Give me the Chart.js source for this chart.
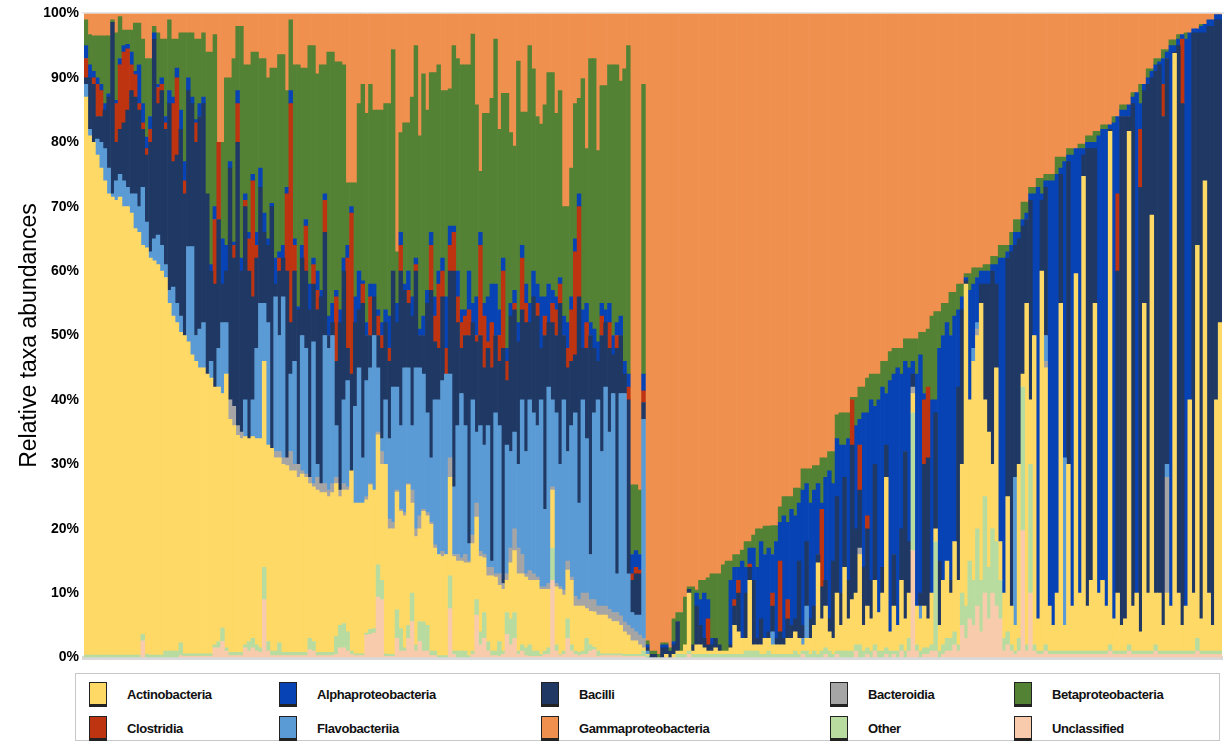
<!DOCTYPE html>
<html>
<head>
<meta charset="utf-8">
<script src="https://cdn.jsdelivr.net/npm/chart.js@4.4.1/dist/chart.umd.min.js"></script>
<style>
  body { margin: 0; background: #fff; font-family: "Liberation Sans", Arial, sans-serif; }
  #wrap { position: relative; width: 1224px; height: 745px; }
  #chartBox { position: absolute; left: 0; top: 0; }
  #legend { position: absolute; left: 75px; top: 673px; width: 1145px; height: 68px; border: 1px solid #c8c8c8; box-sizing: border-box; }
  .item { position: absolute; height: 26px; display: flex; align-items: center; font-size: 13px; font-weight: bold; letter-spacing: -0.4px; color: #111; white-space: nowrap; }
  .swatch { display: inline-block; width: 16px; height: 21px; border: 1px solid #222; border-bottom-width: 3px; margin-right: 20px; }
</style>
</head>
<body>
<div id="wrap">
  <canvas id="chartBox" width="1224" height="671"></canvas>
  <div id="legend"></div>
</div>
<script>
// cumulative tops (% of sample) of each layer, read from bottom to top
// first 148 samples = left block, last 152 = right block
const topUnclassified = [
  0,0,0,0,0,0,0,0,0,0, 0,0,0,0,0,2.6,0,0,0,0, 0,0,0,0,0,0.3,0.2,0.2,0.2,0.2,
  0.2,0.2,0.2,0.2,1.5,1.5,2.5,1,0.3,0.3, 0.3,0.3,1.5,1,1.5,1,0.8,9,1,0.3,
  0.3,0.3,0.3,0.3,0.3,0.3,0.3,0.3,0.3,1.2, 1,0.3,0.3,0.3,0.3,0.3,0.5,1.5,1.5,1,
  0.5,0.3,0.3,0.3,3.5,3.6,3.8,9.4,9,0.2, 0.2,0.2,3,1,1,3,5.6,1,2.5,1,
  1,0.3,0.3,0,0,0,7.6,0.5,0,0, 0,0,0.5,6.6,2,3,1,0.3,0.3,0.2,
  0.5,3.6,2,3,0.5,1,0.3,0.2,0.2,0.2, 0.2,0.5,0.5,12,1,0.3,0.5,3,1,0.5,
  0.3,0.5,0.5,1,1.2,0.2,0.3,0.3,0.3,0.3, 0.3,0.3,0.2,0.2,0.2,0.2,0.2,0.2,
  0,0,0,0,0,0,0,0,0,0, 0,0.5,0,0,0,0,0,0,0,0, 0,0,0,0,0,0,0,0,0,0,
  0,0,0,0,0,0,0,0,0,0, 0,0.5,0,0,0,0,0,0.5,0,0, 0.5,0,0,0,0,1,0,0,0.5,0,
  1,0,0,0.5,0,0.5,0,1,0,1, 16.6,1,0,0.5,0.5,1,1,0,0.5,1, 1,2,1,5,3,6,5,8,4,10,
  6,10,8,6,1,2,1,0.5,1,19.7, 1,10,1,0.5,0.5,1,0.5,0.5,0.5,0.5,
  0.5,0.5,0.5,0.5,0.5,0.5,0.5,0.5,0.5,0.5, 0.5,0.5,1,0.5,0.5,0.5,0.5,1,0.5,0.5,
  0.5,0.5,0.5,0.5,1,0.5,0.5,0.5,0.5,0.5, 0.5,0.5,0.5,0.5,0.5,1,0.5,0.5,0.5,0.5, 0.5,0.5
];
const topOther = [
  0.4,0.4,0.4,0.4,0.4,0.4,0.4,0.4,0.4,0.4, 0.4,0.4,0.4,0.4,0.4,3.6,0.5,0.4,0.4,0.4,
  0.4,1,1,1,1,2.3,0.6,0.6,0.6,0.6, 0.6,0.6,0.6,0.6,2,2.5,4.6,1.5,0.8,0.8,
  0.8,0.8,2,2.5,3,2,1.5,14,2.5,1, 1,2.3,0.8,0.8,0.8,0.8,0.8,0.8,0.8,3,
  2.5,0.8,0.8,0.8,0.8,0.8,3.3,5,5.3,4, 1,0.6,0.6,0.6,3.8,4.4,4.5,14.4,12,0.6,
  0.5,0.5,7.4,4.5,1.5,5,10,2,5.6,5.5, 5,1,1,0.3,0.3,0.3,12.7,1,1,1,
  1,0.3,1,9,4,7,2.5,1,1,2.5, 1,7,6,7,1,2,1.5,2,1,1,
  0.5,1,1.5,17,2,0.5,1,6,2,1, 0.8,1,3,2,1.6,1,0.6,0.6,0.6,0.6, 0.6,0.6,0.5,0.5,0.5,0.5,0.5,1,
  0.3,0,0,0,0,0,0,0,0.5,0.5, 0.5,1,0.5,0.5,0.5,0.5,0.5,0.5,0.5,0.5, 0.5,0.5,0.5,0.5,0.5,0.5,1,1,1,1,
  0.5,0.5,1,0.5,0.5,0.5,0.5,0.5,0.5,1, 0.5,1,1,0.5,1,0.5,1,1.5,1,0.5, 1,1,1,1,1,2,2,1,1.5,1,
  2,1,1,1.5,1,1,1,2,1,3, 38,2,1,1.5,1.5,2,18,1,2,3, 3,4,2,10,8,15,12,20,12,25,
  14,20,18,12,3,4,2,1,3,42, 2,30,2,1,1,2,1,1,1,1, 1,1,1,1,1,1,1,1,1,1,
  1,1,2,1,1,1,1,2,1,1, 1,1,1,1,2,1,1,1,1,1, 1,1,1,1,1,3,1,1,1,1, 1,1
];
const topActinobacteria = [
  87,81,80,78,76,74,72,71.5,71,71.5, 70,70,69,66.6,66,64,63.6,62,61.6,61,
  60,59,55,53,52,50.5,50,49,47,46, 45,45,44,43.4,42,42,41,44,37,36,
  34.5,34,34.3,34,34.3,34,34,46,33,32.5, 31,31,30,29.8,29,29,28,28.5,28,27,
  26.5,26,25.6,25.6,25,25.6,27,25,26,26, 29,24,24,24,24.5,26.8,26,34.6,30,30,
  20,20,25.7,22.7,22,26.8,24,18.8,20,22.7, 22,20.7,17,16,15.7,16,28,15.7,15,15,
  14.7,14.7,17.7,21.8,15.7,15.5,12.7,12.7,12.5,11.2, 10.6,12,14.7,16.6,13,13,12.5,12,12,12,
  10.6,10.6,10.6,26,11,10.6,9.7,13.6,12,8, 8,8,7.6,7.2,7.1,6.6,6.6,6.6,6,5.6, 5.6,5,4,3.5,2.6,2.6,2,1.5,
  0.5,0,0,0,0,0.5,0,0.5,1,1, 2,10,1,2,2,1.5,1,1,1.5,1, 1,1,1.5,5,4,3,3,12,2,2,
  2,3,3,2,2,2,2,3,3,4, 3,2,3,3,5,14.7,6,8,4,3, 10,5,14,6,9,10,16,5,8,6,
  12,7,10,28,4,8,5,12,6,10, 41,8,6,8,6,10,20,5,12,15, 10,18,12,30,58,40,46,50,55,40,
  35,30,45,18,10,25,8,5,30,44, 55,40,50,6,60,45,8,5,10,55, 5,30,8,59.6,10,74.7,8,12,55,10,
  12,8,81.7,6,10,5,6,81.7,8,10, 4,55,10,68.7,10,10,5,10,8,93.8, 10,5,8,40,10,64,6,74,10,5, 40,52
];
const topBacteroidia = [
  87,81,80,78,76,74,72,71.5,71,71.5, 70,70,69,66.6,66,64,63.6,62,61.6,61,
  60,59,55,53,52,50.5,50,49,47,46, 45,45,44,43.4,42,42,41,44,40,39,
  36,35,34.3,34,34.3,34,34,46,33,32.5, 32,32,31,31,32,30,30,29,28.5,28,
  27,28,27,27,26,27,28,26,27,26.5, 29,24,24,24,25,27,26,35,32,30,
  21.5,21,26,23,22.5,27,26,20,22,23, 22.5,21,17.5,16,16.5,16,31,16,16,15.5,
  16,15,19,24,16.5,16,14,14,13,13, 11.5,13,17,20,17,16,13,13.5,13,12.5,
  11,11,11.5,26.5,11.5,11,10.5,15,12.5,9.5, 9,10,10,9,9,8,8,8,7.5,7, 7,6.5,5.5,5,4.5,4,3.5,3,
  0.5,0,0,0,0,0.5,0,0.5,1,1, 2,10,1,2,2,1.5,1,1,1.5,1, 1,1,1.5,5,4,3,3,12,2,2,
  2,3,3,2,2,2,2,3,3,4, 3,2,3,3,5,14.7,6,8,4,3, 10,5,14,6,9,10,17,5,8,6,
  12,7,10,28,4,8,5,12,6,10, 42,8,6,8,6,10,20,5,12,15, 10,18,12,30,58,40,46,51,55,40,
  35,30,45,18,10,25,8,5,30,44, 55,40,50,6,60,46,8,5,10,55, 5,30,8,59.6,10,74.7,8,12,55,10,
  12,8,81.7,6,10,5,6,81.7,8,10, 4,55,10,68.7,10,10,5,28,8,93.8, 10,5,8,40,10,64,6,74,10,5, 40,52
];
const topFlavobacteriia = [
  89,82,80,80.5,80,79,76,72,74,75, 74,73,72,72,70,73,67.6,63,65,65.6,
  64,61,57,57.5,55,53,50,63.8,63.8,50, 51,52,44,46,42,48,52,52,40,39,
  36,35,40,34,40,48,55,55,52,32.5, 56,50,56,31,44,46,30,50,48,28,
  49,30,27,50,48,50,36,26,40,43, 29,39,45,31,43,45,50,45,34,40,
  34,42,42,36,45,45,36,45,45,44, 38,31,40,40,43,44,44,26.5,36,41,
  36,17.7,40,35,36,33,36,15,38,36, 11.5,33,32,35,30,40,32,40,38,36,
  40,23,42,40,38,30,40,32,36,38, 24,40,34,16,38,40,32,42,35,41, 13,41,41,13,7,6.6,6.6,37,
  1,0,0,0,0,0.5,0,0.5,1,1, 2,10,1,2,2,1.5,1,1,1.5,1, 1,1,1.5,5,4,3,3,12,2,2,
  2,3,3,4,2,2,2,3,3,4, 3,3,8,3,5,14.7,6,8,4,3, 10,5,14,6,9,10,17,5,8,6,
  12,7,10,28,4,8,5,12,6,10, 42,8,8,8,6,10,20,5,12,15, 10,18,12,30,58,40,48,52,55,40,
  35,30,45,18,10,25,8,28,30,44, 55,40,50,6,60,50,8,5,10,55, 31,30,8,59.6,10,74.7,8,12,55,10,
  12,8,81.7,6,10,5,6,81.7,8,10, 4,55,10,68.7,10,10,5,30,8,93.8, 10,5,8,40,10,64,6,74,10,5, 40,52
];
const topBacilli = [
  90,90,89,84,84,85,87,98.6,80,82, 83,85,88,87,85,82,78,80,96,86,
  88,82,86,77,78,82,72,88,86,80, 84,86,72,60,58,68,58,60,76,62,
  80,60,70,60,56,62,73,66,64,70, 58,60,62,60,52,60,54,62,60,54,
  58,54,56,66,50,52,46,52,60,48, 44,52,54,55,50,50,56,50,48,52,
  46,60,52,60,57,55,53,60,50,50, 55,57,49,48,56,44,60,60,52,48,
  50,50,52,49,50,45,48,45,50,46, 48,43,53,54,49,54,52,52,56,53,
  48,50,52,52,50,55,50,45,46,47, 56,48,48,50,48,46,50,52,48,47, 48,50,44,40,12,13,13,39.6,
  1.5,0.5,0.5,0,1.5,1.5,1,2,5.6,1, 2,10.6,2,8,5,3,2,2,3,2, 1,1,2,8,10,3,10,14,12,3,
  6,3,4,8,3,4,3,6,5,6, 15,5,18,6,8,16,11,12,6,15, 25,10,28,12,33,20,26,14,20,12,
  30,7,14,33,4,16,5,20,32,18, 44,8,10,30,31,10,38,15,12,15, 12,18,42,54,58.5,40,48,52,58,58,
  58,60,58,18,10,62,63,64,65,67, 68,71,50,6,71,73,8,5,10,75, 31,77,8,59.6,10,78,79,79,79,10,
  12,8,82,6,60,84,84,84,86,10, 73,88,89,90,91,92,84,93,8,94, 95,86,8,40,97,97,97,97,98,98, 99,99
];
const topClostridia = [
  93,90,90,89,88,85,87,98.6,86,92, 94,94.5,92,90.5,86,83,79,82,96,88.5,
  89,83,86,86,90,82,74,88,86,83, 84,86,72,60,68,80,58,60,76,64,
  86,60,71,65,74,64,73,66,64,70, 58,62,62,72,86,64,54,62,67,54,
  61,57,56,71,50,52,56,52,60,62, 69,52,54,58,50,56,56,53,50,52,
  48,60,52,64,57,57,53,61,50,50, 55,64,53,58,60,48,64,66,56,52,
  53,54,52,50,64,53,49,52,50,50, 60,46,53,55,49,62,55,52,56,55,
  48,53,52,55,54,58,50,48,54,63, 70,48,52,50,48,46,53,52,52,47, 50,50,44,42,13,14,13.6,41.4,
  1.5,0.5,0.5,0,1.5,1.5,1,2,5.6,1, 2,10.6,2,8,5,3,6,2,3,2, 1,1,2,9,12,3,10,14.5,12,3,
  6,3,4,10,3,15,3,9,5,6, 15,5,18,6,8,16,23,12,6,15, 25,10,28,12,40,20,33,14,22,12,
  30,7,14,33,4,16,5,20,32,18, 44,8,10,40,42,10,38,15,12,15, 12,18,42,54,58.5,40,48,52,58,58,
  58,60,58,18,10,62,63,64,65,67, 68,71,50,6,71,73,8,5,10,75, 31,77,8,59.6,10,78,79,79,79,10,
  12,8,82,6,72,84,84,84,86,10, 82,88,89,90,91,92,89,93,8,94, 95,96,8,40,97,97,97,97,98,98, 99,99
];
const topAlphaproteobacteria = [
  95,92,91,90,89,86,87.5,98.6,86.5,93, 95,95.2,94,91,92,86,80.8,84,97,89,
  90,84,88,87,91.5,85,77,90,87,83.5, 86,87,72,61,70,80,65,64,77,64.5,
  88,62,72,66,75,66,76,69,65,70.5, 62,63,64,73,88,65,54.5,64,68,58,
  62,60,57,72,53,55,57,54,62,64, 70,56,60,58.5,52,58,58,54,52,54,
  53,60,55,66,58,60,56,62,51,53, 57,66,56,60,62,56,67,67,60,54,
  54,60,55,56,66,55,56,58,58,54, 62,48,55,57,52,64,58,55,60,58,
  56,56,58,57,56,59,53,52,56,65, 72,54,55,52,51,49,55,54,55,50, 52,53,46,44,16,16.6,16,44,
  2,0.5,0.5,0,2,2,1,2.5,5.6,1, 2,10.6,2,10,9,10,9,3,3,2, 1,1,12,14,14,15,14,17,17,14,
  18,16,17,16,18,21,22,21,23,22, 24,26,27,24,26,27,24,28,29,27, 34,33,33,34,40,36,37,38,38,40,
  39,40,42,41,43,44,45,44,46,45, 46,44,47,41,42,40,40,48,50,52, 50,53,54,56,59,57,58,59,60,60,
  60,61,61,62,62,63,64,66,66,68, 69,72,72,73,72,74,74,74,75,76, 77,78,78,79,79,79,80,80,80,81,
  82,82,82.7,83,84,85,85,85.8,87,87.7, 86,89,90,91,92,92.5,93,94,95,95, 96,96.7,96,97,97.6,97.6,98,98.3,99,99, 99.8,99.8
];
const topBetaproteobacteria = [
  99,96.7,96.5,96.5,96.5,96.5,96.5,99,97,99.5, 97.4,97.4,97.4,98.5,98.5,96,93,93,98,97,
  96,96,99,96,96,97,97,97,97,96, 96,97,94,94,96.7,80,80,90,90,93,
  98,98,92,92,94,94,93,93,90,91.5, 91.5,93.6,93.6,88,99,92,92,91.5,91.5,95,
  95,90.6,92,92,94,94,92.5,92.5,92,73.7, 73.7,73.7,86,89,84.5,89,85,85,85,86,
  86,94.4,63,81.5,83,83,87,95,81,90.6, 85,90.8,90.8,92,88,88,88.3,95,93,92,
  92,92,96.8,85.8,75.5,84.5,84.5,86.8,96,82, 87.6,87.6,81.5,79.4,92.6,84.7,84.7,95,91.4,84,
  82.8,85.8,90.8,90.8,84.5,88,70,70,76,86, 86.8,89.9,79,93,93,78.7,88.8,88.8,92,92, 92,89.5,91.4,95,26.8,26.8,26,89,
  2.6,1,1,0.5,2.3,2.3,1.5,6,7,7, 9.4,11,11,10.5,12,12,12.4,13,13,13, 14.4,15,15,16,16,16.7,18,18,19,20,
  20,20.4,20.4,20.5,20.5,23.4,25,25,25,26.3, 26.3,29.3,29.3,29.3,29.8,29.8,31,31,32,32, 37.7,38,38,38,40.4,40.4,42,42,43.4,44,
  44,44,46,46,47.5,48,48,48,49.5,49.5, 49.5,49.5,50.5,50.5,51,53,53.7,53.7,55,55, 56.7,56.7,58,58,59.6,59.6,60.5,60.5,60.5,61,
  61,62.3,62.3,64,64,64,66,68,68,70.7, 70.7,73,73,74.4,74.4,75,75,75,77.7,77.7, 77.7,79,79,79,79.7,79.7,81,81,81.7,81.7,
  82.7,82.7,82.7,84,84,85.8,85.8,85.8,87.7,87.7, 89,89,91.4,91.4,93,93,94.4,94.4,95.9,95.9, 96.7,96.7,97,97,97.6,97.6,98.3,98.3,99,99, 99.8,99.8
];
const fullScale = 100; // Gammaproteobacteria fills the rest of each sample

const taxa = ['Unclassified', 'Other', 'Actinobacteria', 'Bacteroidia', 'Flavobacteriia',
  'Bacilli', 'Clostridia', 'Alphaproteobacteria', 'Betaproteobacteria', 'Gammaproteobacteria'];
const taxaTops = [topUnclassified, topOther, topActinobacteria, topBacteroidia, topFlavobacteriia,
  topBacilli, topClostridia, topAlphaproteobacteria, topBetaproteobacteria, null];
const taxaColors = ['#F8CBAD', '#B8DCA0', '#FFD966', '#A5A5A5', '#5B9BD5',
  '#1F3864', '#BE3410', '#0843B5', '#548235', '#F0904F'];

const samples = topActinobacteria.map((_, i) => 'Sample ' + (i + 1));

// each layer is a floating bar from the top of the layers below it to its own top
let floor = samples.map(() => 0);
const datasets = taxa.map((name, k) => {
  const tops = taxaTops[k];
  const data = samples.map((_, i) => {
    const lo = floor[i];
    const hi = Math.max(lo, tops ? tops[i] : fullScale);
    floor[i] = hi;
    return hi > lo ? [lo, hi] : null;
  });
  return { label: name, data: data, backgroundColor: taxaColors[k] };
});

const topRule = {
  id: 'topRule',
  afterDraw(chart) {
    const { ctx, chartArea } = chart;
    ctx.save();
    ctx.strokeStyle = '#d4d4d4';
    ctx.lineWidth = 1;
    ctx.beginPath();
    ctx.moveTo(chartArea.left - 2, chartArea.top - 0.5);
    ctx.lineTo(chartArea.right + 2, chartArea.top - 0.5);
    ctx.stroke();
    ctx.restore();
  }
};

const chart = new Chart(document.getElementById('chartBox'), {
  type: 'bar',
  data: { labels: samples, datasets: datasets },
  options: {
    responsive: false,
    animation: false,
    layout: { padding: { top: 8, right: 2, left: 0, bottom: 0 } },
    datasets: { bar: { grouped: false, categoryPercentage: 1, barPercentage: 1, borderWidth: 0 } },
    plugins: { legend: { display: false }, tooltip: { enabled: false } },
    scales: {
      x: {
        ticks: { display: false },
        grid: { display: false },
        border: { color: '#d9d9d9', width: 4 },
        afterFit(scale) { scale.height = 4; }
      },
      y: {
        min: 0,
        max: 100,
        z: 1,
        ticks: {
          stepSize: 10,
          padding: 5,
          color: '#000',
          font: { family: 'Liberation Sans', size: 14, weight: 'bold' },
          callback: (v) => v + '%'
        },
        grid: { color: 'rgba(255,255,255,0.22)', drawTicks: false },
        border: { display: false },
        title: {
          display: true,
          text: 'Relative taxa abundances',
          color: '#000',
          font: { family: 'Liberation Sans', size: 23 },
          padding: { top: 16, bottom: 0 }
        },
        afterFit(scale) { scale.width = 84; }
      }
    }
  },
  plugins: [topRule]
});

// legend: two rows of five, alphabetical like the original
const legendEl = document.getElementById('legend');
const legendCols = [13, 203, 465, 754, 938];
const legendRows = [7, 41];
chart.data.datasets
  .map((d) => ({ label: d.label, color: d.backgroundColor }))
  .sort((a, b) => a.label.localeCompare(b.label))
  .forEach((item, n) => {
    const div = document.createElement('div');
    div.className = 'item';
    div.style.left = legendCols[n % 5] + 'px';
    div.style.top = legendRows[Math.floor(n / 5)] + 'px';
    const sw = document.createElement('span');
    sw.className = 'swatch';
    sw.style.background = item.color;
    div.appendChild(sw);
    div.appendChild(document.createTextNode(item.label));
    legendEl.appendChild(div);
  });
</script>
</body>
</html>
